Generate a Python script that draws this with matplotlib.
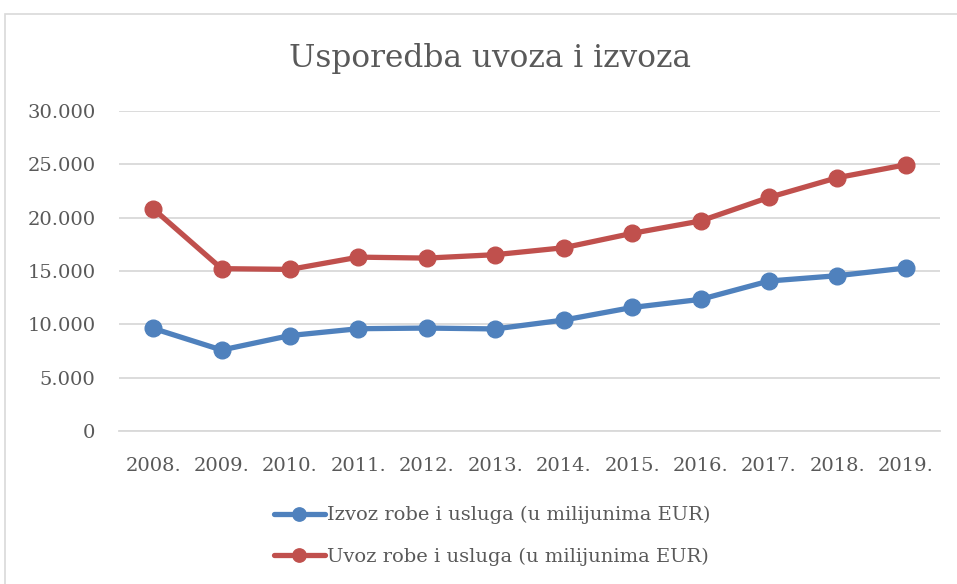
import matplotlib
matplotlib.use("Agg")
import matplotlib.pyplot as plt
from matplotlib.patches import Rectangle
from matplotlib.ticker import FuncFormatter, MultipleLocator

years = ["2008.", "2009.", "2010.", "2011.", "2012.", "2013.", "2014.", "2015.", "2016.", "2017.", "2018.", "2019."]
izvoz = [9620, 7590, 8950, 9590, 9650, 9570, 10400, 11580, 12340, 14060, 14560, 15280]
uvoz = [20830, 15220, 15150, 16300, 16210, 16530, 17180, 18530, 19690, 21900, 23750, 24960]
label_izvoz = "Izvoz robe i usluga (u milijunima EUR)"
label_uvoz = "Uvoz robe i usluga (u milijunima EUR)"
title = "Usporedba uvoza i izvoza"

plt.rcParams['font.family'] = ['DejaVu Serif']
txt = '#595959'

fig = plt.figure(figsize=(9.57, 5.84), dpi=100)
fig.patches.append(Rectangle((5/957, -0.1), 1.1, (584-14)/584 + 0.1, transform=fig.transFigure,
                             fill=False, edgecolor='#D9D9D9', linewidth=1.2))
ax = fig.add_axes([119/957, 1-431/584, (940-119)/957, (431-111)/584])

x = list(range(len(years)))
ax.plot(x, izvoz, color='#4F81BD', linewidth=3.8, marker='o', markersize=12, label=label_izvoz,
        solid_capstyle='round')
ax.plot(x, uvoz, color='#C0504D', linewidth=3.8, marker='o', markersize=12, label=label_uvoz,
        solid_capstyle='round')

ax.set_xlim(-0.5, len(years) - 0.5)
ax.set_ylim(0, 30000)
ax.yaxis.set_major_locator(MultipleLocator(5000))
ax.yaxis.set_major_formatter(FuncFormatter(lambda v, p: f"{int(v):,}".replace(",", ".")))
ax.set_xticks(x)
ax.set_xticklabels(years)
ax.grid(axis='y', color='#D9D9D9', linewidth=1.3)
ax.set_axisbelow(True)
for s in ['top', 'right', 'left']:
    ax.spines[s].set_visible(False)
ax.spines['bottom'].set_color('#D9D9D9')
ax.spines['bottom'].set_linewidth(1.3)
ax.tick_params(axis='both', length=0, labelsize=14, colors=txt)
ax.tick_params(axis='y', pad=17)
ax.tick_params(axis='x', pad=19)

fig.text(490/957, 1 - 59/584, title, ha='center', va='center', fontsize=22.5, color=txt)

leg = fig.legend(loc='center', bbox_to_anchor=(492/957, 1 - 536/584), ncol=1, frameon=False,
                 fontsize=14, labelcolor=txt, handlelength=2.6, handletextpad=0.1, labelspacing=1.2,
                 markerscale=0.8)

fig.savefig("out.png", dpi=100)
